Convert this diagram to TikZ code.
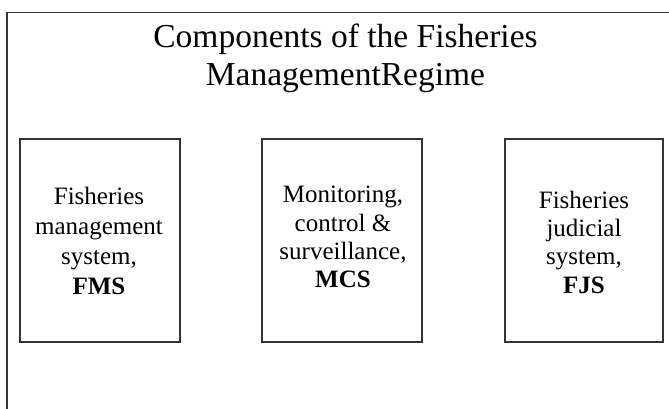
\documentclass[tikz,border=0pt]{standalone}
\usepackage{fontspec}
\setmainfont{Liberation Serif}
\begin{document}
\begin{tikzpicture}[x=1pt,y=-1pt,
  frameline/.style={line width=1.1pt,draw=black!80},
  compbox/.style={draw=black!80,line width=1.1pt},
  boxtext/.style={align=center,inner sep=0pt},
  titletext/.style={align=center,inner sep=0pt,font=\fontsize{33.5}{38}\selectfont}]
\useasboundingbox (0,0) rectangle (669,408);
\fill[white] (0,0) rectangle (669,408);
\coordinate (fbl) at (7,410);
\coordinate (ftl) at (7,12.5);
\coordinate (ftr) at (671,12.5);
\draw[frameline] (fbl) -- (ftl) -- (ftr);
\node[titletext] (title) at (345.5,58.3) {Components of the Fisheries\\ManagementRegime};
\draw[compbox] (20,139) rectangle (180,342);
\draw[compbox] (262,139) rectangle (422,342);
\draw[compbox] (505,139) rectangle (663,342);
\node[boxtext,font=\fontsize{25}{30}\selectfont] (fms) at (99,240.5) {Fisheries\\management\\system,\\\textbf{FMS}};
\node[boxtext,font=\fontsize{25}{28.3}\selectfont] (mcs) at (343,237) {Monitoring,\\control \&\\surveillance,\\\textbf{MCS}};
\node[boxtext,font=\fontsize{25}{28.3}\selectfont] (fjs) at (584,242) {Fisheries\\judicial\\system,\\\textbf{FJS}};
\end{tikzpicture}
\end{document}
